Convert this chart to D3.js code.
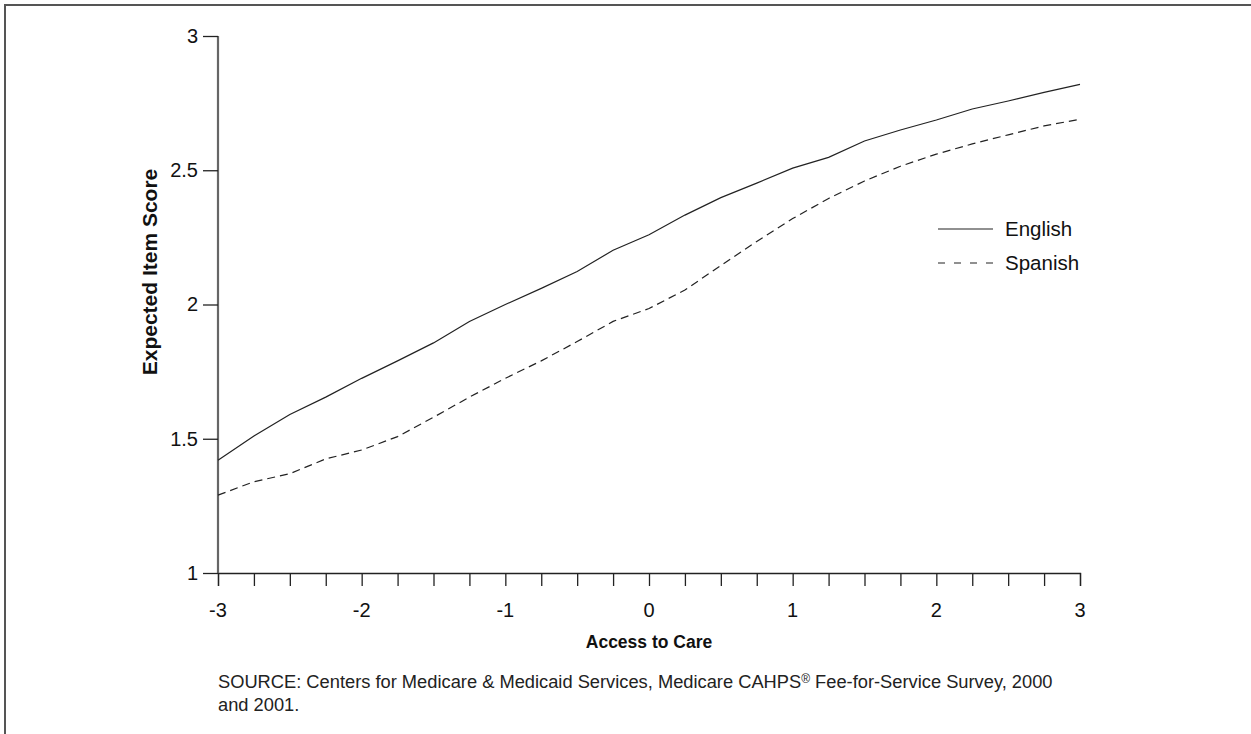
<!DOCTYPE html>
<html>
<head>
<meta charset="utf-8">
<script src="https://cdn.jsdelivr.net/npm/d3@7"></script>
<style>
  html, body { margin: 0; padding: 0; background: #fff; }
  svg { display: block; font-family: "Liberation Sans", Arial, sans-serif; }
</style>
</head>
<body>
<svg id="chart" width="1251" height="734"></svg>
<script>
// Access to Care scale positions (x) and the expected item score for each language version
const accessLevels = [-3, -2.75, -2.5, -2.25, -2, -1.75, -1.5, -1.25, -1, -0.75, -0.5, -0.25,
                      0, 0.25, 0.5, 0.75, 1, 1.25, 1.5, 1.75, 2, 2.25, 2.5, 2.75, 3];
const englishScores = [1.42, 1.51, 1.59, 1.655, 1.725, 1.79, 1.857, 1.937, 2.0, 2.06, 2.123, 2.202,
                       2.26, 2.333, 2.398, 2.452, 2.508, 2.548, 2.609, 2.65, 2.687, 2.728, 2.758, 2.79, 2.82];
const spanishScores = [1.29, 1.34, 1.37, 1.425, 1.458, 1.508, 1.58, 1.655, 1.725, 1.79, 1.862, 1.937,
                       1.985, 2.054, 2.145, 2.235, 2.32, 2.395, 2.46, 2.515, 2.56, 2.598, 2.632, 2.665, 2.69];
const seriesNames = ["English", "Spanish"];
const xTickLabels = [-3, -2, -1, 0, 1, 2, 3];
const xMinorTicks = accessLevels;
const yTickLabels = [1, 1.5, 2, 2.5, 3];
const xTitle = "Access to Care";
const yTitle = "Expected Item Score";
const sourceLines = ["SOURCE: Centers for Medicare & Medicaid Services, Medicare CAHPS", "and 2001."];

const svg = d3.select("#chart");

// outer frame
svg.append("rect")
  .attr("x", 5).attr("y", 5).attr("width", 1260).attr("height", 740)
  .attr("fill", "none").attr("stroke", "#555").attr("stroke-width", 2);

const x = d3.scaleLinear().domain([-3, 3]).range([218, 1080]);
const y = d3.scaleLinear().domain([1, 3]).range([573, 36]);

// x axis: minor ticks every 0.25, labels on the integers
const xAxis = svg.append("g").attr("transform", `translate(0,${y(1)})`);
xAxis.call(d3.axisBottom(x).tickValues(xMinorTicks).tickSize(13).tickFormat(""))
  .call(g => g.select(".domain").attr("stroke", "#222").attr("stroke-width", 1.3))
  .call(g => g.selectAll(".tick line").attr("stroke", "#222").attr("stroke-width", 1.3));
xAxis.selectAll(".xlab")
  .data(xTickLabels).enter().append("text")
  .attr("class", "xlab")
  .attr("x", d => x(d)).attr("y", 44)
  .attr("text-anchor", "middle")
  .attr("font-size", 20).attr("fill", "#111")
  .text(d => d3.format("d")(d).replace("−", "-"));

// y axis
const yAxis = svg.append("g").attr("transform", `translate(${x(-3)},0)`);
yAxis.call(d3.axisLeft(y).tickValues(yTickLabels).tickSize(15).tickPadding(5)
    .tickFormat(d => String(d)))
  .call(g => g.select(".domain").attr("stroke", "#666").attr("stroke-width", 2.2))
  .call(g => g.selectAll(".tick line").attr("stroke", "#222").attr("stroke-width", 1.3))
  .call(g => g.selectAll(".tick text").attr("font-size", 20).attr("fill", "#111")
    .attr("font-family", "'Liberation Sans', Arial, sans-serif"));
yAxis.select(".domain").attr("d", `M0,${y(1)}V${y(3)}`);

// axis titles
svg.append("text")
  .attr("x", x(0)).attr("y", 648)
  .attr("text-anchor", "middle")
  .attr("font-size", 17.5).attr("font-weight", "bold").attr("fill", "#111")
  .text(xTitle);
svg.append("text")
  .attr("transform", `translate(157,272) rotate(-90)`)
  .attr("text-anchor", "middle")
  .attr("font-size", 21).attr("font-weight", "bold").attr("fill", "#111")
  .text(yTitle);

// series lines
const line = d3.line().x(d => x(d[0])).y(d => y(d[1]));
const series = [
  { name: seriesNames[0], values: englishScores, dash: null },
  { name: seriesNames[1], values: spanishScores, dash: "8,5" }
];
svg.selectAll(".series")
  .data(series).enter().append("path")
  .attr("class", "series")
  .attr("d", s => line(accessLevels.map((a, i) => [a, s.values[i]])))
  .attr("fill", "none").attr("stroke", "#222").attr("stroke-width", 1.2)
  .attr("stroke-dasharray", s => s.dash);

// legend
const legend = svg.append("g").attr("transform", "translate(938,229)");
series.forEach((s, i) => {
  const row = legend.append("g").attr("transform", `translate(0,${i * 34})`);
  row.append("line").attr("x1", 0).attr("x2", 55).attr("y1", 0).attr("y2", 0)
    .attr("stroke", "#222").attr("stroke-width", 1.2)
    .attr("stroke-dasharray", s.dash ? "7,9" : null);
  row.append("text").attr("x", 67).attr("y", 7)
    .attr("font-size", 20.5).attr("fill", "#111").text(s.name);
});

// source note
const note = svg.append("text")
  .attr("x", 218).attr("y", 688)
  .attr("font-size", 18.3).attr("fill", "#222");
note.append("tspan").text(sourceLines[0]);
note.append("tspan").attr("font-size", 12).attr("dy", -5).text("®");
note.append("tspan").attr("dy", 5).text(" Fee-for-Service Survey, 2000");
svg.append("text")
  .attr("x", 218).attr("y", 711)
  .attr("font-size", 18.3).attr("fill", "#222")
  .text(sourceLines[1]);
</script>
</body>
</html>
